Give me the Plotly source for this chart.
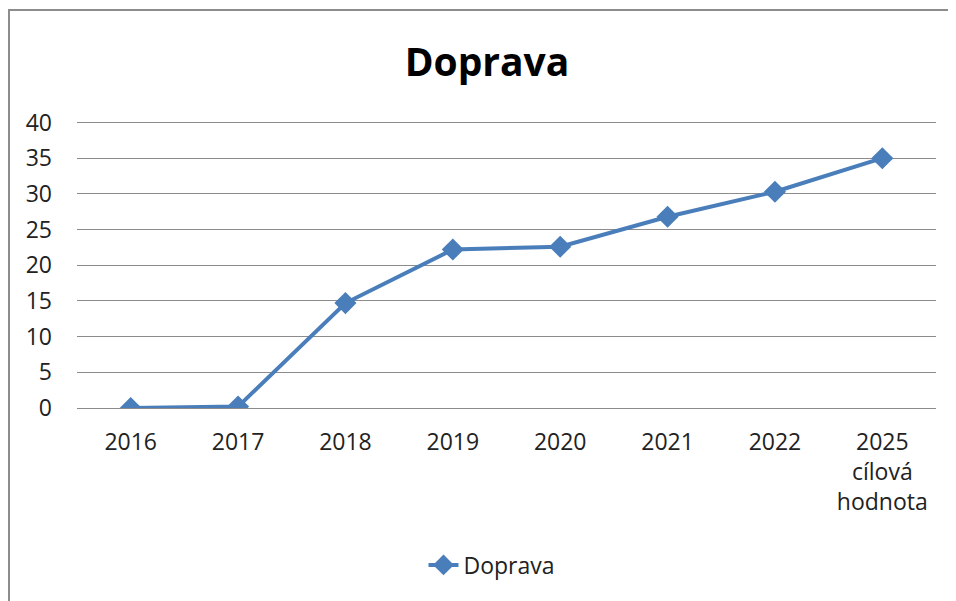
import plotly.graph_objects as go

categories = ["2016", "2017", "2018", "2019", "2020", "2021", "2022", "2025<br>cílová<br>hodnota"]
values = [0, 0.2, 14.7, 22.2, 22.6, 26.8, 30.3, 35]
y_ticks = [0, 5, 10, 15, 20, 25, 30, 35, 40]
series_name = "Doprava"
title_text = "Doprava"

BLUE = "#4A7EBB"
FONT = "Open Sans"
OFF = 8  # default page body margin

PX_PER_UNIT = (408 - 122.5) / 40
TOP_PAD = 6  # px above the 40 gridline
W, H = 956 - OFF, 601 - OFF
L, T = 77 - OFF, int(round(122.5 - TOP_PAD)) - OFF
R = W - (936 - OFF)
B = H - (408 - OFF)
pw = W - L - R
ph = H - T - B
y_top = ph / PX_PER_UNIT

def px_x(px):
    return (px - OFF - L) / pw

def px_y(py):
    return (H - B - (py - OFF)) / ph

fig = go.Figure()
fig.add_trace(go.Scatter(
    x=list(range(len(categories))), y=values, name=series_name,
    mode="lines+markers",
    line=dict(color=BLUE, width=4),
    marker=dict(symbol="diamond", size=17, color=BLUE),
    showlegend=True,
))

fig.update_layout(
    width=W, height=H,
    margin=dict(l=L, r=R, t=T, b=B),
    paper_bgcolor="white", plot_bgcolor="white",
    font=dict(family=FONT, size=23, color="#222222"),
    title=dict(text="<b>" + title_text + "</b>", x=(487 - OFF) / W, xanchor="center",
               y=1 - (62 - OFF) / H, yanchor="middle",
               font=dict(family=FONT, size=39, color="black")),
    xaxis=dict(
        tickmode="array", tickvals=list(range(len(categories))), ticktext=categories,
        range=[-0.5, len(categories) - 0.5],
        showgrid=False, zeroline=False, showline=False,
        ticks="", ticklabelstandoff=18,
        tickfont=dict(family=FONT, size=23, color="#222222"),
        fixedrange=True,
    ),
    yaxis=dict(
        range=[0, y_top], tickmode="array", tickvals=y_ticks,
        showgrid=True, gridcolor="#8c8c8c", gridwidth=1,
        zeroline=True, zerolinecolor="#8c8c8c", zerolinewidth=1,
        showline=False, ticks="", ticklabelstandoff=24,
        tickfont=dict(family=FONT, size=23, color="#222222"),
        fixedrange=True,
    ),
    legend=dict(orientation="h", x=px_x(492), xanchor="center", y=px_y(565), yanchor="middle",
                font=dict(family=FONT, size=23, color="#222222"), bgcolor="rgba(0,0,0,0)"),
    shapes=[dict(
        type="path", xref="paper", yref="paper",
        path=f"M {px_x(9)} {px_y(620)} L {px_x(9)} {px_y(10)} L {px_x(990)} {px_y(10)}",
        line=dict(color="#8c8c8c", width=2),
    )],
)

fig.write_html("out.html")
